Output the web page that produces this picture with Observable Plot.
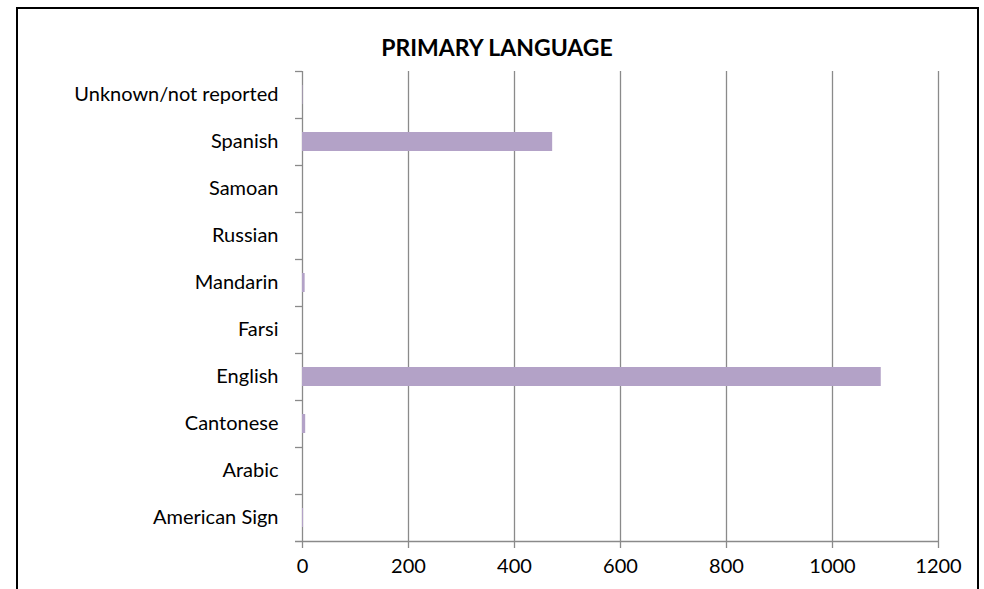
<!DOCTYPE html>
<html>
<head>
<meta charset="utf-8">
<script src="https://cdn.jsdelivr.net/npm/d3@7"></script>
<script src="https://cdn.jsdelivr.net/npm/@observablehq/plot@0.6"></script>
<style>
  html, body { margin: 0; padding: 0; background: #fff; }
  #wrap { position: relative; width: 984px; height: 589px; overflow: hidden; font-family: Lato, "Open Sans", sans-serif; }
  #frame { position: absolute; left: 16px; top: 7px; width: 963px; height: 620px; border: 2px solid #000; box-sizing: border-box; }
  #title { position: absolute; left: 0; width: 994px; top: 33px; text-align: center; font-weight: bold; font-size: 23px; color: #000; }
  #chart { position: absolute; left: 0; top: 0; }
</style>
</head>
<body>
<div id="wrap">
  <div id="frame"></div>
  <div id="chart"></div>
  <div id="title">PRIMARY LANGUAGE</div>
</div>
<script>
// Data (bottom to top, as in the source chart)
const languages = ["American Sign", "Arabic", "Cantonese", "English", "Farsi", "Mandarin", "Russian", "Samoan", "Spanish", "Unknown/not reported"];
const counts    = [2, 0, 6, 1092, 0, 5, 0, 0, 472, 1];
const xTicks    = [0, 200, 400, 600, 800, 1000, 1200];

const data = languages.map((lang, i) => ({lang, count: counts[i]}));

const W = 984, H = 589;
const mTop = 71, mBottom = 48, mLeft = 302, mRight = 46;
const band = (H - mTop - mBottom) / languages.length;
const gray = "#8a8a8a";
const barColor = "#b3a2c7";

const plot = Plot.plot({
  width: W,
  height: H,
  marginTop: mTop,
  marginBottom: mBottom,
  marginLeft: mLeft,
  marginRight: mRight,
  style: {fontFamily: "Lato, 'Open Sans', sans-serif", fontSize: "20px", color: "#000", background: "transparent"},
  x: {domain: [0, 1200], ticks: xTicks},
  y: {domain: languages.slice().reverse(), paddingInner: 0.6, paddingOuter: 0.3, align: 0.5},
  marks: [
    Plot.gridX(xTicks, {stroke: gray, strokeOpacity: 1, strokeWidth: 1.3}),
    Plot.barX(data, {x: "count", y: "lang", fill: barColor}),
    // bottom axis line (extends a tick-length left of the y axis)
    Plot.ruleY([languages[0]], {dy: band / 2, x1: 0, x2: 1200, insetLeft: -7, stroke: gray, strokeWidth: 1.3}),
    // category boundary ticks on the y axis
    Plot.ruleY(languages.slice(1), {y: d => d, x1: 0, x2: 0, insetLeft: -7, dy: band / 2, stroke: gray, strokeWidth: 1.3}),
    Plot.ruleY([languages[languages.length - 1]], {x1: 0, x2: 0, insetLeft: -7, dy: -band / 2, stroke: gray, strokeWidth: 1.3}),
    Plot.axisY({tickSize: 0, tickPadding: 24, label: null, fontSize: 20}),
    Plot.axisX(xTicks, {tickSize: 7, tickPadding: 10, stroke: gray, strokeWidth: 1.3, label: null, fontSize: 20, tickFormat: d => String(d)})
  ]
});
document.getElementById("chart").appendChild(plot);
</script>
</body>
</html>
